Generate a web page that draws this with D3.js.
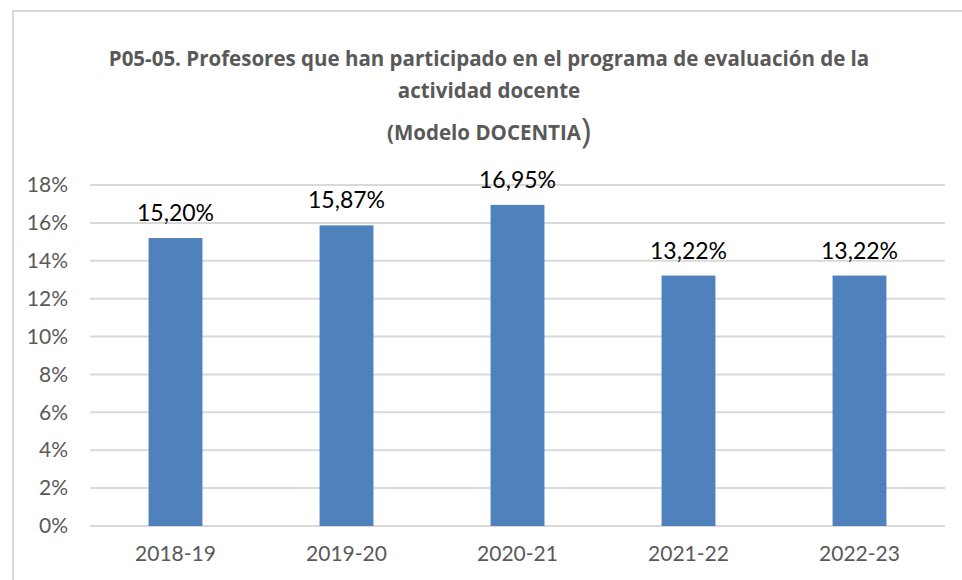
<!DOCTYPE html>
<html>
<head>
<meta charset="utf-8">
<script src="https://cdn.jsdelivr.net/npm/d3@7"></script>
<style>
  body { margin: 0; background: #fff; }
  text { font-family: Lato, "Open Sans", sans-serif; }
  .title { font-family: "Open Sans", sans-serif; font-weight: bold; fill: #595959; }
</style>
</head>
<body>
<div id="chart"></div>
<script>
// chart data
let cursos = ["2018-19", "2019-20", "2020-21", "2021-22", "2022-23"];
let valores = [15.20, 15.87, 16.95, 13.22, 13.22];
let yTicks = [0, 2, 4, 6, 8, 10, 12, 14, 16, 18];

var width = 962,
    height = 580;

var svg = d3.select('#chart').append('svg')
    .attr('width', width)
    .attr('height', height);

// outer frame
svg.append("rect")
    .attr("x", 13).attr("y", 11)
    .attr("width", 980).attr("height", 600)
    .attr("fill", "white")
    .attr("stroke", "#d9d9d9")
    .attr("stroke-width", 2);

// title
let title = svg.append("text").attr("class", "title").attr("text-anchor", "middle");
title.append("tspan").attr("x", 489).attr("y", 66).attr("font-size", 20.5)
    .text("P05-05. Profesores que han participado en el programa de evaluación de la");
title.append("tspan").attr("x", 489).attr("y", 98).attr("font-size", 20.5)
    .text("actividad docente");
let t3 = svg.append("text").attr("class", "title").attr("text-anchor", "middle")
    .attr("x", 489).attr("y", 140).attr("font-size", 20.5);
t3.append("tspan").text("(Modelo DOCENTIA");
t3.append("tspan").attr("font-size", 34).attr("font-weight", "normal").attr("dy", 3).text(")");

// scales
let x = d3.scaleBand().domain(cursos).range([90, 945]).paddingInner(0.685).paddingOuter(0.3425);
let y = d3.scaleLinear().domain([0, 18]).range([526, 185]);

// gridlines
svg.append("g").selectAll("line").data(yTicks).enter().append("line")
    .attr("x1", 90).attr("x2", 945)
    .attr("y1", d => y(d)).attr("y2", d => y(d))
    .attr("stroke", "#d9d9d9").attr("stroke-width", 2);

// y axis labels
let yAxis = d3.axisLeft(y).tickValues(yTicks).tickFormat(d => d + "%").tickSize(0).tickPadding(0);
let gy = svg.append("g").attr("transform", "translate(68,0)").call(yAxis);
gy.select(".domain").remove();
gy.selectAll("text").attr("fill", "#595959").attr("font-size", 21).attr("font-family", "Lato, sans-serif");

// x axis labels
let xAxis = d3.axisBottom(x).tickSize(0).tickPadding(0);
let gx = svg.append("g").attr("transform", "translate(0,546)").call(xAxis);
gx.select(".domain").remove();
gx.selectAll("text").attr("fill", "#595959").attr("font-size", 21).attr("font-family", "Lato, sans-serif");

// bars
svg.selectAll(".bar").data(valores).enter().append("rect")
    .attr("class", "bar")
    .attr("x", (d, i) => x(cursos[i]))
    .attr("width", x.bandwidth())
    .attr("y", d => y(d))
    .attr("height", d => y(0) - y(d))
    .attr("fill", "#4f81bd");

// data labels
svg.selectAll(".lbl").data(valores).enter().append("text")
    .attr("class", "lbl")
    .attr("x", (d, i) => x(cursos[i]) + x.bandwidth() / 2)
    .attr("y", d => y(d) - 17)
    .attr("text-anchor", "middle")
    .attr("font-size", 23)
    .attr("fill", "#000")
    .text(d => d.toFixed(2).replace(".", ",") + "%");
</script>
</body>
</html>
